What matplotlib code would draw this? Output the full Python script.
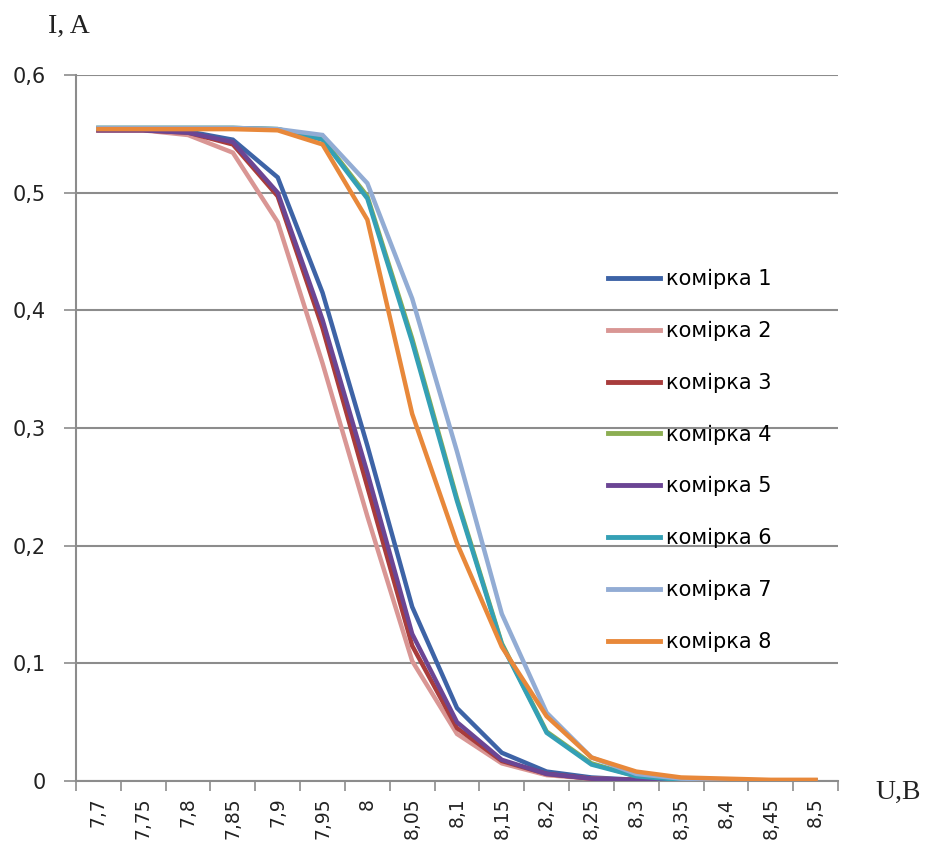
import matplotlib

matplotlib.use("Agg")
import matplotlib.pyplot as plt
from matplotlib.ticker import FixedLocator, FuncFormatter

# U, B (category axis, Excel style)
VOLTAGES = ["7,7", "7,75", "7,8", "7,85", "7,9", "7,95", "8", "8,05", "8,1",
            "8,15", "8,2", "8,25", "8,3", "8,35", "8,4", "8,45", "8,5"]

# I, A for each cell
CELL1 = [0.554, 0.554, 0.552, 0.545, 0.513, 0.415, 0.285, 0.148, 0.062,
         0.024, 0.008, 0.003, 0.001, 0.0005, 0.0003, 0.0002, 0.0001]
CELL2 = [0.553, 0.553, 0.549, 0.534, 0.475, 0.355, 0.225, 0.102, 0.040,
         0.015, 0.005, 0.002, 0.001, 0.0005, 0.0003, 0.0002, 0.0001]
CELL3 = [0.553, 0.553, 0.551, 0.541, 0.497, 0.385, 0.250, 0.115, 0.045,
         0.017, 0.006, 0.002, 0.001, 0.0005, 0.0003, 0.0002, 0.0001]
CELL4 = [0.555, 0.555, 0.555, 0.555, 0.554, 0.546, 0.497, 0.376, 0.240,
         0.117, 0.042, 0.015, 0.004, 0.001, 0.0005, 0.0003, 0.0002]
CELL5 = [0.553, 0.553, 0.551, 0.543, 0.500, 0.392, 0.262, 0.125, 0.050,
         0.018, 0.006, 0.002, 0.001, 0.0005, 0.0003, 0.0002, 0.0001]
CELL6 = [0.555, 0.555, 0.555, 0.555, 0.554, 0.545, 0.495, 0.373, 0.238,
         0.116, 0.041, 0.014, 0.004, 0.001, 0.0005, 0.0003, 0.0002]
CELL7 = [0.555, 0.555, 0.555, 0.555, 0.554, 0.549, 0.508, 0.410, 0.280,
         0.142, 0.058, 0.020, 0.006, 0.002, 0.001, 0.0005, 0.0003]
CELL8 = [0.554, 0.554, 0.554, 0.554, 0.553, 0.541, 0.477, 0.312, 0.202,
         0.114, 0.055, 0.020, 0.008, 0.003, 0.002, 0.001, 0.001]

SERIES = [CELL1, CELL2, CELL3, CELL4, CELL5, CELL6, CELL7, CELL8]
LABELS = ["комірка 1", "комірка 2", "комірка 3", "комірка 4",
          "комірка 5", "комірка 6", "комірка 7", "комірка 8"]
COLORS = ["#3d63a6", "#d99694", "#a83c3c", "#8cae52",
          "#6b4594", "#34a0b5", "#92acd4", "#e8883a"]
YTICKS = [0, 0.1, 0.2, 0.3, 0.4, 0.5, 0.6]

GRID = "#8c8c8c"
INK = "#222222"

fig = plt.figure(figsize=(9.29, 8.52), dpi=100)
ax = fig.add_axes([76 / 929, 1 - 781 / 852, (838 - 76) / 929, (781 - 75) / 852])

x = range(len(VOLTAGES))
for vals, lab, col in zip(SERIES, LABELS, COLORS):
    ax.plot(x, vals, color=col, linewidth=3.2, label=lab,
            solid_joinstyle="miter", zorder=3)

ax.set_xlim(-0.5, len(VOLTAGES) - 0.5)
ax.set_ylim(0, 0.6)

# category labels at centres, tick marks between categories
ax.set_xticks(list(x))
ax.set_xticklabels(VOLTAGES, rotation=90, fontsize=13.5, color=INK)
ax.tick_params(axis="x", which="major", length=0, pad=12)
ax.xaxis.set_minor_locator(FixedLocator([i - 0.5 for i in range(len(VOLTAGES) + 1)]))
ax.tick_params(axis="x", which="minor", length=7, width=1.2, color=GRID,
               direction="out")

ax.set_yticks(YTICKS)
ax.yaxis.set_major_formatter(FuncFormatter(
    lambda v, _: "0" if v == 0 else f"{v:.1f}".replace(".", ",")))
ax.tick_params(axis="y", length=9, width=1.2, color=GRID, labelsize=15,
               labelcolor=INK, pad=13)
ax.grid(axis="y", color=GRID, linewidth=1.5, zorder=0)

for side in ("top", "right"):
    ax.spines[side].set_visible(False)
for side in ("left", "bottom"):
    ax.spines[side].set_color(GRID)
    ax.spines[side].set_linewidth(1.5)

fig.text(48 / 929, 1 - 26 / 852, "I, A", fontsize=20, family="Liberation Serif",
         color=INK, ha="left", va="center")
fig.text(875 / 929, 1 - 792 / 852, "U,B", fontsize=20, family="Liberation Serif",
         color=INK, ha="left", va="center")

leg = ax.legend(loc="upper left", bbox_to_anchor=(608 / 929, 1 - 269 / 852),
                bbox_transform=fig.transFigure, frameon=False, fontsize=15,
                handlelength=2.5, handletextpad=0.3, labelspacing=1.52,
                borderpad=0, borderaxespad=0)
for line in leg.get_lines():
    line.set_linewidth(3.5)

fig.savefig("out.png", dpi=100, facecolor="white")
